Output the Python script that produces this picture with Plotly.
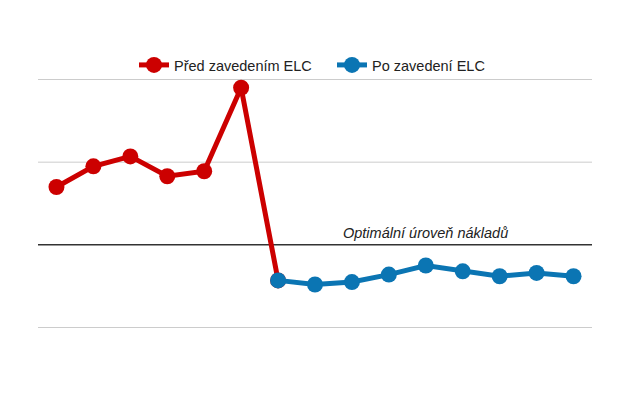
import plotly.graph_objects as go

periods = list(range(15))
before_x = periods[0:7]
before_y = [1.70, 1.95, 2.07, 1.83, 1.89, 2.90, 0.57]
after_x = periods[6:15]
after_y = [0.57, 0.52, 0.55, 0.64, 0.75, 0.68, 0.62, 0.66, 0.62]
optimum = 1.0
grid_vals = [0, 2, 3]
names = ["Před zavedením ELC", "Po zavedení ELC"]
annot_text = "Optimální úroveň nákladů"

fig = go.Figure()
fig.add_trace(go.Scatter(x=before_x, y=before_y, mode="lines+markers", name=names[0],
                         line=dict(color="#cc0000", width=5), marker=dict(size=16, color="#cc0000")))
fig.add_trace(go.Scatter(x=after_x, y=after_y, mode="lines+markers", name=names[1],
                         line=dict(color="#0b75b3", width=5), marker=dict(size=16, color="#0b75b3")))

for g in grid_vals:
    fig.add_shape(type="line", xref="paper", x0=0, x1=1, yref="y", y0=g, y1=g,
                  line=dict(color="#cccccc", width=1), layer="below")
fig.add_shape(type="line", xref="paper", x0=0, x1=1, yref="y", y0=optimum, y1=optimum,
              line=dict(color="#333333", width=1.5), layer="below")
fig.add_annotation(x=10, y=optimum, xref="x", yref="y", text="<i>" + annot_text + "</i>",
                   showarrow=False, xanchor="center", yanchor="bottom", yshift=2,
                   font=dict(family="Liberation Sans, Arial", size=14.5, color="#222222"))

fig.update_layout(
    width=630, height=385,
    margin=dict(l=30, r=46, t=71, b=65),
    plot_bgcolor="white", paper_bgcolor="white",
    showlegend=True,
    legend=dict(orientation="h", x=0.5307, xanchor="center", y=0.992, yanchor="bottom",
                bgcolor="rgba(0,0,0,0)",
                font=dict(family="Liberation Sans, Arial", size=14.5, color="#222222"),
                itemwidth=30, entrywidth=153, entrywidthmode="pixels"),
    xaxis=dict(range=[-0.5, 14.5], showgrid=False, showticklabels=False, zeroline=False,
               showline=False, ticks=""),
    yaxis=dict(range=[-0.006, 3.006], showticklabels=False, showgrid=False,
               zeroline=False, showline=False, ticks=""),
    font=dict(family="Liberation Sans, Arial"),
)
fig.write_html("out.html")
